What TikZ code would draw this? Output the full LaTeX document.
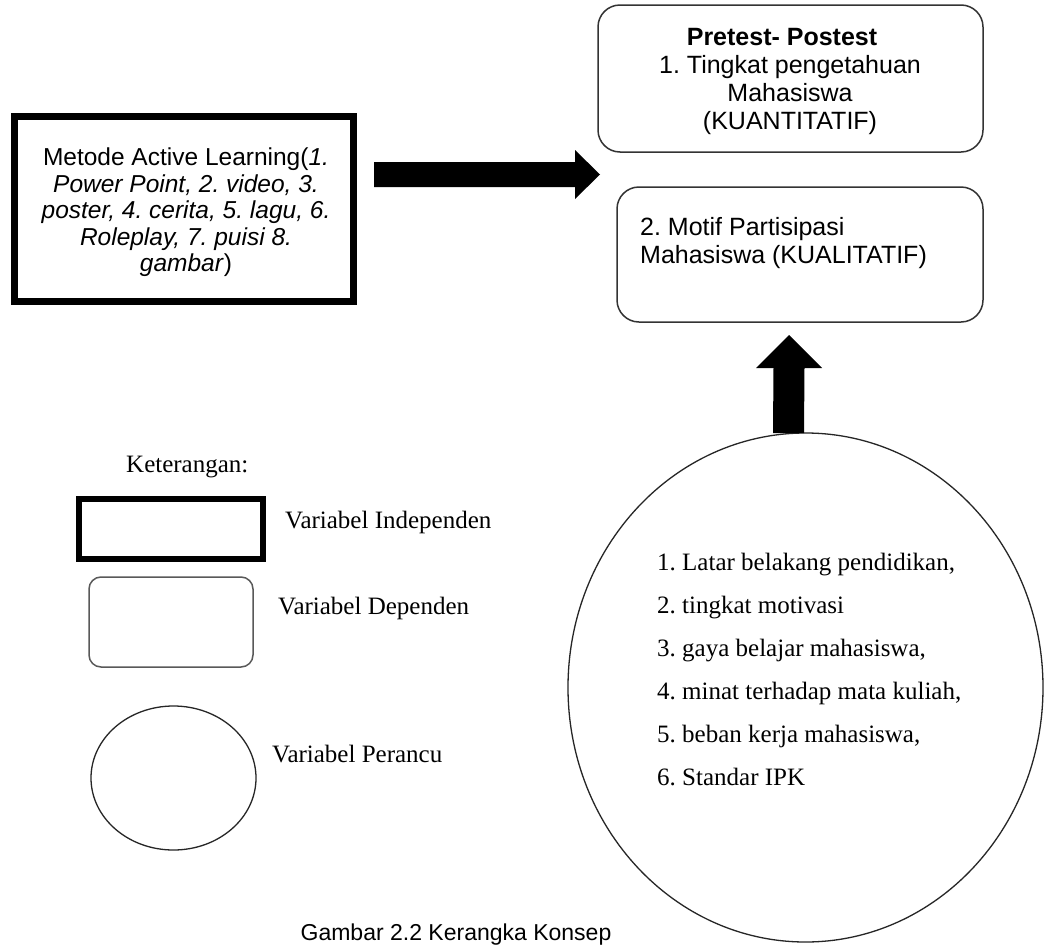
\documentclass[tikz,border=0pt]{standalone}
\usepackage{fontspec}
\setmainfont{Liberation Serif}
\newfontfamily\arialf{Liberation Sans}
\usetikzlibrary{shapes.geometric,calc}
\frenchspacing
\begin{document}
\frenchspacing
\begin{tikzpicture}[x=1pt,y=-1pt,
  indep/.style={draw, line width=7pt, rectangle, inner sep=0},
  dep/.style={draw=black!80, line width=1.5pt, rounded corners=22pt, rectangle, inner sep=0},
  conf/.style={draw=black!85, line width=1.3pt, ellipse, inner sep=0},
  sanstxt/.style={font=\arialf\fontsize{24.5}{26.5}\selectfont, inner sep=0, align=center},
  sanstop/.style={font=\arialf\fontsize{25}{28}\selectfont, inner sep=0},
  serif/.style={font=\fontsize{25}{43}\selectfont, inner sep=0},
  blockarrow/.style={fill=black}
]
\useasboundingbox[fill=white] (0,0) rectangle (1045,948);

% independent variable box
\node[indep, minimum width=339pt, minimum height=185.5pt] (ind) at (183.5,208.75) {};
\node[sanstxt, anchor=north] (indtxt) at (186,148)
  {Metode Active Learning(\textit{1.}\\\textit{Power Point, 2. video, 3.}\\\textit{poster, 4. cerita, 5. lagu, 6.}\\\textit{Roleplay, 7. puisi 8.}\\\textit{gambar})};

% dependent boxes
\node[dep, minimum width=385pt, minimum height=147pt] (pre) at (790.5,78.5) {};
\node[sanstop, align=center, anchor=north] (pretxt) at (790,28)
  {\textbf{Pretest- Postest}\hspace*{16pt}\\1. Tingkat pengetahuan\\Mahasiswa\\(KUANTITATIF)};
\node[dep, minimum width=366pt, minimum height=135pt] (mot) at (800,254.5) {};
\node[sanstop, align=left, anchor=north west] (mottxt) at (640,217)
  {2. Motif Partisipasi\\Mahasiswa (KUALITATIF)};

% confounding ellipse
\node[conf, minimum width=475pt, minimum height=509pt] (perancu) at (805.5,687.5) {};
\node[serif, align=left, anchor=north west] (pertxt) at (657,553)
  {1. Latar belakang pendidikan,\\2. tingkat motivasi\\3. gaya belajar mahasiswa,\\4. minat terhadap mata kuliah,\\5. beban kerja mahasiswa,\\6. Standar IPK};

% block arrows
\coordinate (r1) at (374,174.5);
\coordinate (r2) at (600,174.5);
\fill[blockarrow] ($(r1)+(0,-12.5)$) -- ($(r2)+(-25,-12.5)$) -- ($(r2)+(-25,-24.5)$) -- (r2)
  -- ($(r2)+(-25,24.5)$) -- ($(r2)+(-25,12.5)$) -- ($(r1)+(0,12.5)$) -- cycle;
\coordinate (u1) at (788.5,433);
\coordinate (u2) at (789,335);
\fill[blockarrow] ($(u1)+(-15.5,0)$) -- ($(u2)+(-15.5,33)$) -- ($(u2)+(-33,33)$) -- (u2)
  -- ($(u2)+(33,33)$) -- ($(u2)+(15.5,33)$) -- ($(u1)+(15.5,0)$) -- cycle;

% legend
\node[serif, anchor=base west] (ket) at (126,472) {Keterangan:};
\node[indep, line width=6pt, minimum width=183.5pt, minimum height=60pt] (lind) at (170.75,528.5) {};
\node[dep, rounded corners=12pt, draw=black!65, minimum width=164pt, minimum height=90pt] (ldep) at (171,622) {};
\node[conf, minimum width=165pt, minimum height=144pt] (lconf) at (173.5,778) {};
\node[serif, anchor=base west] (lindtxt) at (285,528) {Variabel Independen};
\node[serif, anchor=base west] (ldeptxt) at (278,614) {Variabel Dependen};
\node[serif, anchor=base west] (lconftxt) at (272,762) {Variabel Perancu};

% caption
\node[font=\arialf\fontsize{23}{26}\selectfont, anchor=base, inner sep=0] (cap) at (456,940) {Gambar 2.2 Kerangka Konsep};
\end{tikzpicture}
\end{document}
